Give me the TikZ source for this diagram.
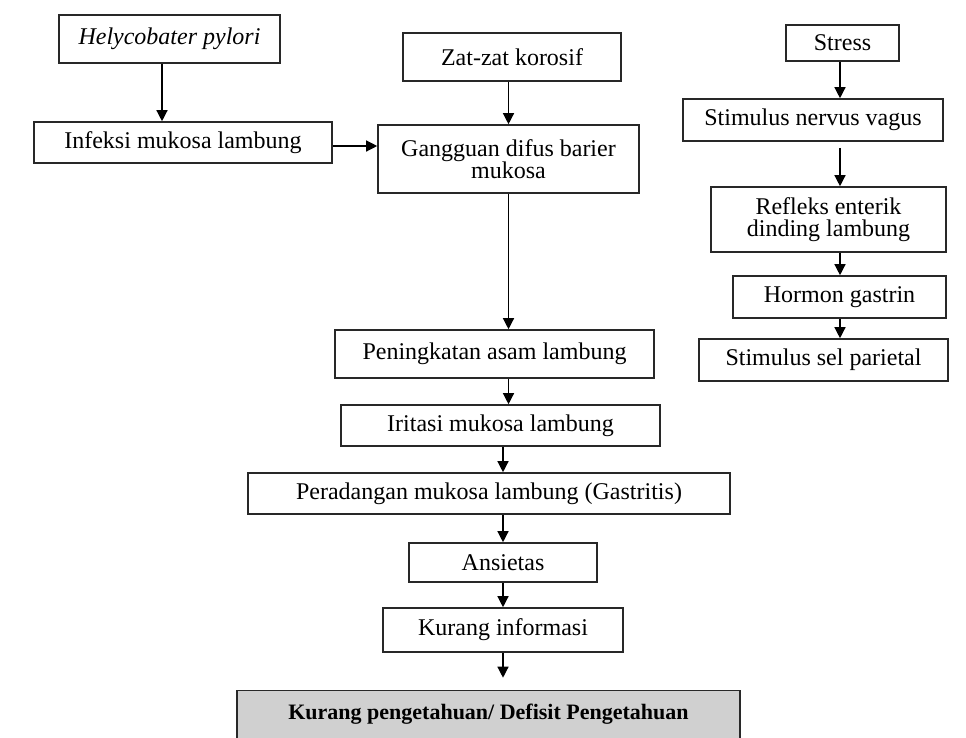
\documentclass[tikz,border=0pt]{standalone}
\usepackage{fontspec}
\setmainfont{Liberation Serif}
\usepackage{xcolor}
\usepackage{tikz}
\usetikzlibrary{arrows.meta,positioning}
\definecolor{boxline}{RGB}{40,40,40}
\definecolor{boxgray}{RGB}{208,208,208}

\begin{document}
\begin{tikzpicture}[x=1pt, y=-1pt,
  box/.style={draw=boxline, line width=1.6pt, align=center, inner sep=0pt, font=\fontsize{24}{22}\selectfont},
  arrow/.style={-{Triangle[length=11pt,width=11pt]}, line width=1.3pt, draw=black}]
  \useasboundingbox (0,0) rectangle (966,737);
  \node[box, minimum width=221pt, minimum height=48pt] (pylori) at (169.5,39) {\itshape Helycobater pylori};
  \node[box, minimum width=298pt, minimum height=41pt] (infeksi) at (183,142.5) {Infeksi mukosa lambung};
  \node[box, minimum width=218pt, minimum height=48pt] (zat) at (512,57) {Zat-zat korosif};
  \node[box, minimum width=261pt, minimum height=68pt] (gangguan) at (508.5,159) {Gangguan difus barier\\mukosa};
  \node[box, minimum width=113pt, minimum height=36pt] (stress) at (842.5,43) {Stress};
  \node[box, minimum width=260pt, minimum height=42pt] (vagus) at (813,120) {Stimulus nervus vagus};
  \node[box, minimum width=235pt, minimum height=65pt] (refleks) at (828.5,219.5) {Refleks enterik\\dinding lambung};
  \node[box, minimum width=213pt, minimum height=42pt] (hormon) at (839.5,297) {Hormon gastrin};
  \node[box, minimum width=249pt, minimum height=42pt] (parietal) at (823.5,360) {Stimulus sel parietal};
  \node[box, minimum width=319pt, minimum height=48pt] (peningkatan) at (494.5,354) {Peningkatan asam lambung};
  \node[box, minimum width=319pt, minimum height=41pt] (iritasi) at (500.5,425.5) {Iritasi mukosa lambung};
  \node[box, minimum width=482pt, minimum height=41pt] (peradangan) at (489,493.5) {Peradangan mukosa lambung (Gastritis)};
  \node[box, minimum width=188pt, minimum height=39pt] (ansietas) at (503,562.5) {Ansietas};
  \node[box, minimum width=240pt, minimum height=44pt] (informasi) at (503,630) {Kurang informasi};
  \node[box, fill=boxgray, minimum width=503pt, minimum height=48pt, font=\bfseries\fontsize{22}{22}\selectfont] (defisit) at (488.5,714.5) {Kurang pengetahuan/ Defisit Pengetahuan};
  \coordinate (spine) at (840,0);
  \draw[arrow] ([xshift=-7.5pt]pylori.south) -- ([xshift=-7.5pt]pylori.south |- infeksi.north);
  \draw[arrow] (zat.south -| gangguan.north) -- (gangguan.north);
  \draw[arrow] ([yshift=-3.5pt]infeksi.east) -- ([yshift=-3.5pt]infeksi.east -| gangguan.west);
  \draw[arrow] (gangguan.south) -- (gangguan.south |- peningkatan.north);
  \draw[arrow] (peningkatan.south -| gangguan.south) -- (iritasi.north -| gangguan.south);
  \draw[arrow] (iritasi.south -| ansietas) -- (peradangan.north -| ansietas);
  \draw[arrow] (peradangan.south -| ansietas) -- (ansietas.north);
  \draw[arrow] (ansietas) -- (informasi);
  \draw[arrow, shorten >=12pt] (informasi) -- (informasi |- defisit.north);
  \draw[arrow] (stress.south -| spine) -- (vagus.north -| spine);
  \draw[arrow, shorten <=6pt] (vagus.south -| spine) -- (refleks.north -| spine);
  \draw[arrow] (refleks.south -| spine) -- (hormon.north -| spine);
  \draw[arrow] (hormon.south -| spine) -- (parietal.north -| spine);
\end{tikzpicture}
\end{document}
